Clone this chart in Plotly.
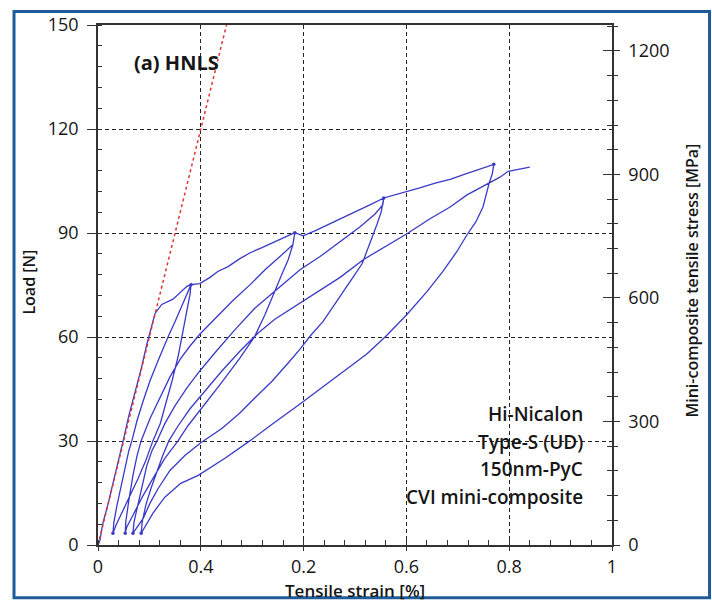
import plotly.graph_objects as go

# ---------------- data: load / strain cycles (strain in %, load in N) ----------------
# initial loading up to the first peak
env0_strain = [0, 0.004, 0.006, 0.010, 0.019, 0.029, 0.039, 0.049, 0.060, 0.072, 0.084, 0.095,
               0.105, 0.111, 0.124, 0.146, 0.173, 0.181]
env0_load = [0, 1.4, 3.4, 6.6, 11.5, 17.5, 23.5, 30.1, 37.3, 43.9, 50.8, 57.9,
             64.0, 66.8, 69.4, 70.9, 74.6, 75.1]

# cycle 1
unl1_strain = [0.181, 0.179, 0.173, 0.165, 0.156, 0.144, 0.130, 0.121, 0.107, 0.093, 0.078, 0.062, 0.047, 0.035, 0.029]
unl1_load = [75.1, 72.3, 67.4, 60.8, 54.5, 47.3, 40.2, 35.0, 30.1, 24.4, 19.2, 14.3, 9.5, 5.7, 3.4]
rel1_strain = [0.029, 0.031, 0.037, 0.045, 0.053, 0.060, 0.066, 0.076, 0.088, 0.101, 0.115, 0.126, 0.136, 0.150, 0.163, 0.175, 0.181]
rel1_load = [3.4, 6.6, 11.5, 17.2, 22.9, 27.2, 30.1, 35.9, 41.6, 47.3, 52.5, 56.5, 59.9, 64.5, 68.8, 72.6, 75.1]
env1_strain = [0.181, 0.198, 0.218, 0.233, 0.253, 0.276, 0.296, 0.319, 0.344, 0.364, 0.383]
env1_load = [75.1, 75.4, 77.2, 78.9, 80.3, 82.6, 84.3, 85.8, 87.5, 88.9, 90.1]

# cycle 2
unl2_strain = [0.383, 0.379, 0.370, 0.360, 0.348, 0.339, 0.325, 0.305, 0.276, 0.237, 0.198, 0.175, 0.156,
               0.130, 0.107, 0.086, 0.068, 0.056, 0.053]
unl2_load = [90.1, 86.6, 82.3, 78.9, 74.6, 71.1, 66.5, 60.2, 53.9, 46.2, 38.7, 34.4, 30.1,
             25.0, 19.2, 13.8, 8.6, 5.2, 3.4]
rel2_strain = [0.053, 0.054, 0.060, 0.068, 0.076, 0.084, 0.101, 0.121, 0.140, 0.160, 0.179, 0.198, 0.228,
               0.261, 0.296, 0.325, 0.354, 0.379, 0.383]
rel2_load = [3.4, 6.6, 12.9, 20.1, 25.8, 30.1, 36.4, 42.7, 48.5, 53.6, 57.4, 60.8, 65.4,
             70.3, 75.1, 79.4, 83.2, 86.6, 90.1]
env2_strain = [0.383, 0.399, 0.422, 0.451, 0.481, 0.510, 0.533, 0.556]
env2_load = [90.1, 89.2, 90.6, 92.6, 94.6, 96.7, 98.4, 100.1]

# cycle 3
unl3_strain = [0.556, 0.554, 0.551, 0.543, 0.535, 0.525, 0.514, 0.496, 0.477, 0.457, 0.438, 0.414, 0.393,
               0.370, 0.339, 0.309, 0.276, 0.241, 0.200, 0.169, 0.140, 0.117, 0.101, 0.088, 0.074, 0.068]
unl3_load = [100.1, 98.1, 96.1, 92.6, 89.5, 85.5, 81.2, 77.2, 73.1, 68.8, 64.5, 60.5, 56.5,
             52.5, 47.3, 43.0, 38.1, 33.6, 29.5, 25.8, 21.5, 16.3, 12.0, 7.7, 4.6, 3.4]
rel3_strain = [0.068, 0.070, 0.078, 0.086, 0.095, 0.105, 0.115, 0.130, 0.150, 0.173, 0.198, 0.230, 0.267,
               0.305, 0.344, 0.393, 0.432, 0.471, 0.510, 0.539, 0.554, 0.556]
rel3_load = [3.4, 6.6, 12.0, 17.2, 22.9, 27.2, 30.1, 35.0, 40.2, 45.3, 50.2, 55.9, 62.2,
             68.3, 73.1, 79.4, 83.2, 87.5, 91.8, 95.5, 98.1, 100.1]
env3_strain = [0.556, 0.578, 0.601, 0.626, 0.656, 0.685, 0.714, 0.743, 0.770]
env3_load = [100.1, 101.0, 101.8, 103.0, 104.4, 105.5, 107.0, 108.4, 109.8]

# cycle 4 and final reloading
unl4_strain = [0.770, 0.767, 0.761, 0.749, 0.735, 0.718, 0.698, 0.671, 0.640, 0.601, 0.562, 0.523, 0.471,
               0.418, 0.393, 0.340, 0.296, 0.247, 0.195, 0.161, 0.130, 0.107, 0.091, 0.084]
unl4_load = [109.8, 107.0, 104.4, 97.5, 93.2, 89.5, 84.6, 78.9, 73.1, 66.5, 60.5, 55.1, 49.3,
             43.6, 40.7, 35.0, 30.1, 25.0, 20.1, 17.8, 13.8, 9.2, 5.2, 3.4]
rel4_strain = [0.084, 0.086, 0.093, 0.103, 0.115, 0.126, 0.138, 0.156, 0.179, 0.208, 0.241, 0.276, 0.311,
               0.344, 0.374, 0.393, 0.432, 0.471, 0.516, 0.558, 0.601, 0.646, 0.685, 0.718, 0.743,
               0.761, 0.782, 0.798, 0.817, 0.840]
rel4_load = [3.4, 6.6, 11.5, 16.3, 21.5, 25.8, 30.1, 34.4, 39.3, 44.5, 50.2, 55.9, 61.1,
             65.1, 68.0, 69.7, 73.4, 77.2, 82.3, 86.0, 89.8, 94.1, 97.5, 101.0, 103.0,
             104.4, 106.1, 107.8, 108.4, 109.0]

# unloading peaks and residual points
peak_strain = [0.181, 0.383, 0.556, 0.770]
peak_load = [75.1, 90.1, 100.1, 109.8]
resid_strain = [0.029, 0.053, 0.068, 0.084]
resid_load = [3.4, 3.4, 3.4, 3.4]

# linear elastic reference line
elastic_strain = [0, 0.25]
elastic_load = [0, 150]

# axis ticks
x_tickvals = [0, 0.2, 0.4, 0.6, 0.8, 1]
x_ticktext = ["0", "0.4", "0.2", "0.6", "0.8", "1"]
load_ticks = [0, 30, 60, 90, 120, 150]
stress_ticks = [0, 300, 600, 900, 1200]
stress_max = 1263

# ---------------- build the full test path ----------------
segments = [
    (env0_strain, env0_load), (unl1_strain, unl1_load), (rel1_strain, rel1_load), (env1_strain, env1_load),
    (unl2_strain, unl2_load), (rel2_strain, rel2_load), (env2_strain, env2_load),
    (unl3_strain, unl3_load), (rel3_strain, rel3_load), (env3_strain, env3_load),
    (unl4_strain, unl4_load), (rel4_strain, rel4_load),
]
path_x, path_y = [], []
for i, (sx, sy) in enumerate(segments):
    start = 0 if i == 0 else 1
    path_x += sx[start:]
    path_y += sy[start:]

BLUE = "#3a3ac8"
RED = "#e03535"
INK = "#161616"
AXIS = "#333333"
FONT = "Open Sans"

fig = go.Figure()
fig.add_trace(go.Scatter(x=path_x, y=path_y, mode="lines",
                         line=dict(color=BLUE, width=1.3), showlegend=False, hoverinfo="skip"))
fig.add_trace(go.Scatter(x=peak_strain + resid_strain, y=peak_load + resid_load, mode="markers",
                         marker=dict(color=BLUE, size=3.5), showlegend=False, hoverinfo="skip"))
fig.add_trace(go.Scatter(x=elastic_strain, y=elastic_load, mode="lines",
                         line=dict(color=RED, width=1.5, dash="3px,3px"), showlegend=False, hoverinfo="skip"))
# carriers for the secondary stress axis
fig.add_trace(go.Scatter(x=[None], y=[None], yaxis="y2", showlegend=False, hoverinfo="skip"))
fig.add_trace(go.Scatter(x=[None], y=[None], yaxis="y3", showlegend=False, hoverinfo="skip"))

grid = dict(showgrid=True, gridcolor="#222222", gridwidth=1.3, griddash="4px,3px")
tickfont = dict(size=18, color=INK, family=FONT, weight=500)

fig.update_layout(
    width=712, height=607,
    margin=dict(l=98, r=100, t=22, b=62),
    paper_bgcolor="white", plot_bgcolor="white",
    font=dict(family=FONT, color=INK, size=18),
    xaxis=dict(range=[0, 1], tickvals=x_tickvals, ticktext=x_ticktext,
               ticks="outside", ticklen=4, tickwidth=1.2, tickcolor=AXIS,
               showline=True, linecolor=AXIS, linewidth=1.5, mirror=True, zeroline=False,
               minor=dict(ticks="inside", ticklen=5, dtick=0.04, tick0=0, tickcolor=AXIS, tickwidth=1),
               tickfont=tickfont, ticklabelstandoff=1, **grid),
    yaxis=dict(range=[0, 150], tickvals=load_ticks,
               ticks="outside", ticklen=9, tickwidth=1.2, tickcolor=AXIS,
               showline=True, linecolor=AXIS, linewidth=1.5, mirror=True, zeroline=False,
               minor=dict(ticks="inside", ticklen=4, dtick=6, tick0=0, tickcolor=AXIS, tickwidth=1),
               tickfont=tickfont, ticklabelstandoff=5, **grid),
    yaxis2=dict(overlaying="y", side="right", range=[0, stress_max], tickvals=stress_ticks,
                ticks="outside", ticklen=6, tickwidth=1.2, tickcolor=AXIS,
                showline=True, linecolor=AXIS, linewidth=1.5, showgrid=False, zeroline=False,
                minor=dict(ticks="outside", ticklen=4, dtick=60, tick0=0, tickcolor=AXIS, tickwidth=1),
                tickfont=tickfont, ticklabelstandoff=5),
    yaxis3=dict(overlaying="y", side="right", range=[0, stress_max], tickvals=stress_ticks,
                ticks="inside", ticklen=9, tickwidth=1.2, tickcolor=AXIS,
                showline=False, showgrid=False, zeroline=False, showticklabels=False,
                minor=dict(ticks="inside", ticklen=5, dtick=60, tick0=0, tickcolor=AXIS, tickwidth=1)),
)

# outer frame
fig.add_shape(type="rect", xref="paper", yref="paper", x0=-0.1634, x1=1.1897, y0=-0.1013, y1=1.0262,
              line=dict(color="#1e5c9c", width=3), layer="above")

bold = dict(family=FONT, color=INK)
fig.add_annotation(text="(a) HNLS", x=0.066, y=0.927, xref="paper", yref="paper", xanchor="left",
                   yanchor="middle", showarrow=False, font=dict(size=20, weight="bold", **bold))
info_lines = ["Hi-Nicalon", "Type-S (UD)", "150nm-PyC", "CVI mini-composite"]
info_y = [0.2524, 0.1989, 0.1453, 0.0918]
for txt, yy in zip(info_lines, info_y):
    fig.add_annotation(text=txt, x=0.9475, y=yy, xref="paper", yref="paper", xanchor="right",
                       yanchor="middle", showarrow=False, font=dict(size=19, weight=600, **bold))

fig.add_annotation(text="Tensile strain [%]", x=0.5, y=-0.088, xref="paper", yref="paper",
                   xanchor="center", yanchor="middle", showarrow=False, font=dict(size=17, weight=600, **bold))
fig.add_annotation(text="Load [N]", x=-0.136, y=0.5048, xref="paper", yref="paper", textangle=-90,
                   xanchor="center", yanchor="middle", showarrow=False, font=dict(size=16, weight=600, **bold))
fig.add_annotation(text="Mini-composite tensile stress [MPa]", x=1.1556, y=0.5086, xref="paper", yref="paper",
                   textangle=-90, xanchor="center", yanchor="middle", showarrow=False,
                   font=dict(size=16, weight=600, **bold))

fig.write_html("out.html")
